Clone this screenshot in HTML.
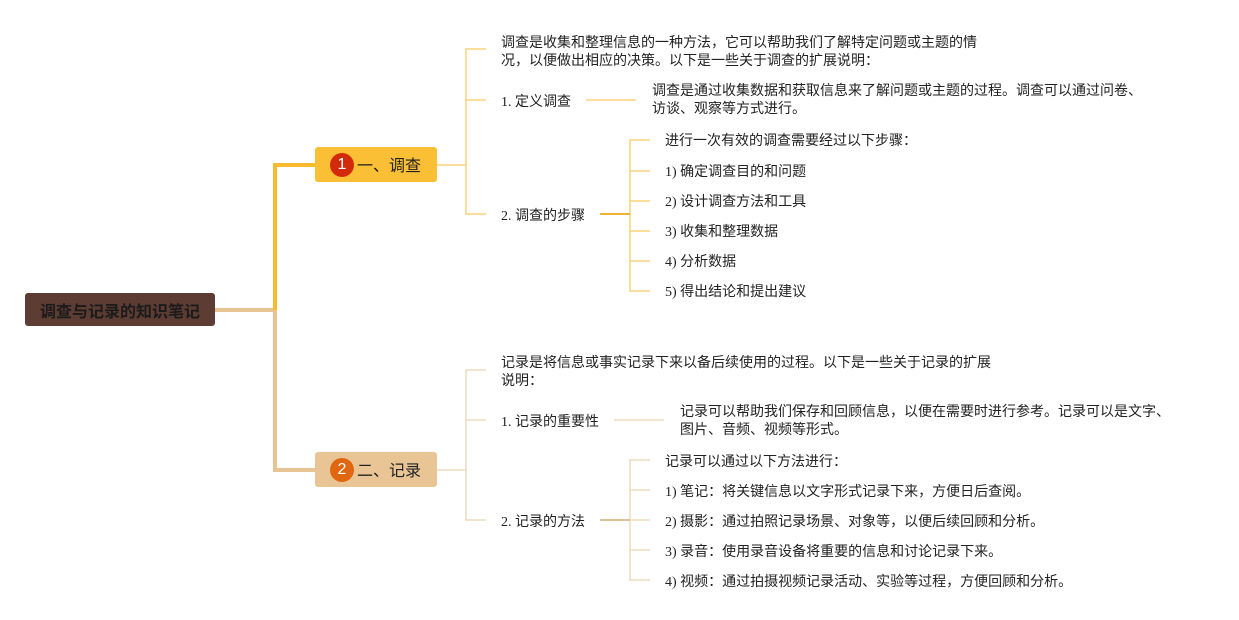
<!DOCTYPE html>
<html><head><meta charset="utf-8"><style>
body{margin:0;width:1239px;height:620px;background:#fff;position:relative;overflow:hidden;font-family:"Liberation Serif","Noto Sans CJK SC",serif;color:#222;}
.t{position:absolute;font-size:14px;line-height:18px;white-space:nowrap;margin-top:2px;}
.box{position:absolute;border-radius:3px;display:flex;align-items:center;}
.c{width:24px;height:24px;border-radius:12px;color:#fff;font-family:"Liberation Sans",sans-serif;font-size:16px;text-align:center;line-height:24px;position:absolute;left:15px;top:6px;}
.lbl{position:absolute;left:42px;top:2px;line-height:36px;font-family:"Liberation Sans","Noto Sans CJK SC",sans-serif;font-size:16px;color:#222;}
</style></head><body>
<svg width="1239" height="620" style="position:absolute;left:0;top:0">
<g fill="none" stroke-linejoin="miter">
<path d="M214 310 H275 V470 H315" stroke="#e8c494" stroke-width="4"/>
<path d="M275 310 V165 H315" stroke="#f8bb2e" stroke-width="4"/>
<g stroke="#fbd27a" stroke-width="1.5">
<path d="M436 165 H466"/><path d="M486 49 H466 V214 H486"/><path d="M466 100 H486"/>
<path d="M586 100 H636"/>
<path d="M650 140 H630 V291 H650"/><path d="M630 171 H650 M630 201 H650 M630 231 H650 M630 261 H650"/>
</g>
<path d="M600 214 H630" stroke="#f2b23a" stroke-width="2"/>
<g stroke="#efdcc0" stroke-width="1.5">
<path d="M436 470 H466"/><path d="M486 370 H466 V520 H486"/><path d="M466 420 H486"/>
<path d="M614 420 H664"/>
<path d="M650 460 H630 V580 H650"/><path d="M630 490 H650 M630 520 H650 M630 550 H650"/>
</g>
<path d="M600 520 H630" stroke="#dcc097" stroke-width="2"/>
</g></svg>

<div class="box" style="left:25px;top:293px;width:190px;height:33px;background:#5d3d33;justify-content:center;font-family:'Liberation Sans','Noto Sans CJK SC',sans-serif;font-weight:bold;font-size:16px;color:#1a1a1a;">调查与记录的知识笔记</div>

<div class="box" style="left:315px;top:147px;width:122px;height:35px;background:#fbbf35;"><div class="c" style="background:#d42a0c">1</div><div class="lbl">一、调查</div></div>
<div class="box" style="left:315px;top:452px;width:122px;height:35px;background:#e9c595;"><div class="c" style="background:#e0660f">2</div><div class="lbl">二、记录</div></div>

<div class="t" style="left:501px;top:33px">调查是收集和整理信息的一种方法，它可以帮助我们了解特定问题或主题的情<br>况，以便做出相应的决策。以下是一些关于调查的扩展说明：</div>
<div class="t" style="left:501px;top:92px">1. 定义调查</div>
<div class="t" style="left:652px;top:81px">调查是通过收集数据和获取信息来了解问题或主题的过程。调查可以通过问卷、<br>访谈、观察等方式进行。</div>
<div class="t" style="left:501px;top:206px">2. 调查的步骤</div>
<div class="t" style="left:665px;top:131px">进行一次有效的调查需要经过以下步骤：</div>
<div class="t" style="left:665px;top:162px">1) 确定调查目的和问题</div>
<div class="t" style="left:665px;top:192px">2) 设计调查方法和工具</div>
<div class="t" style="left:665px;top:222px">3) 收集和整理数据</div>
<div class="t" style="left:665px;top:252px">4) 分析数据</div>
<div class="t" style="left:665px;top:282px">5) 得出结论和提出建议</div>

<div class="t" style="left:501px;top:353px">记录是将信息或事实记录下来以备后续使用的过程。以下是一些关于记录的扩展<br>说明：</div>
<div class="t" style="left:501px;top:412px">1. 记录的重要性</div>
<div class="t" style="left:680px;top:402px">记录可以帮助我们保存和回顾信息，以便在需要时进行参考。记录可以是文字、<br>图片、音频、视频等形式。</div>
<div class="t" style="left:501px;top:512px">2. 记录的方法</div>
<div class="t" style="left:665px;top:452px">记录可以通过以下方法进行：</div>
<div class="t" style="left:665px;top:482px">1) 笔记：将关键信息以文字形式记录下来，方便日后查阅。</div>
<div class="t" style="left:665px;top:512px">2) 摄影：通过拍照记录场景、对象等，以便后续回顾和分析。</div>
<div class="t" style="left:665px;top:542px">3) 录音：使用录音设备将重要的信息和讨论记录下来。</div>
<div class="t" style="left:665px;top:572px">4) 视频：通过拍摄视频记录活动、实验等过程，方便回顾和分析。</div>
</body></html>
